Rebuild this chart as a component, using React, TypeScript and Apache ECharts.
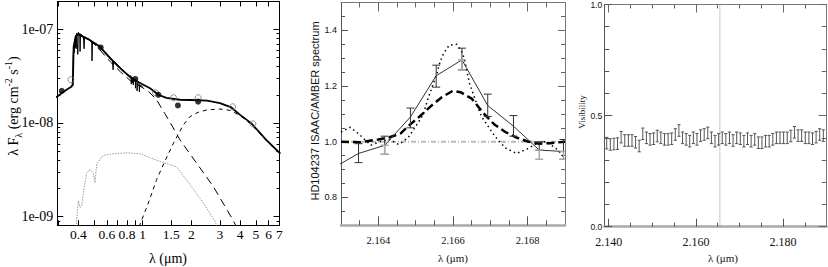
import React, { useEffect, useRef } from 'react';
import * as echarts from 'echarts';

// ---------------- Panel 1 : SED (log-log) ----------------
const sedXRange = [0.2965, 7.007]; // micron
const sedYRange = [8.09e-10, 1.98e-7];
const sedXTickLabels = [0.4, 0.6, 0.8, 1, 1.5, 2, 3, 4, 5, 6, 7];
const sedXMinorTicks = [0.3, 0.5, 0.7, 0.9];
const sedYTickLabels = [1e-9, 1e-8, 1e-7];
const sedYMinorTicks = [
  9e-10, 2e-9, 3e-9, 4e-9, 5e-9, 6e-9, 7e-9, 8e-9, 9e-9,
  2e-8, 3e-8, 4e-8, 5e-8, 6e-8, 7e-8, 8e-8, 9e-8,
];

// total model (thick solid)
const sedTotal: [number, number][] = [
  [0.29, 1.88e-8], [0.3, 1.94e-8], [0.32, 2.12e-8], [0.34, 2.28e-8], [0.36, 2.42e-8],
  [0.37, 2.55e-8], [0.374, 6.5e-8], [0.385, 8.4e-8], [0.4, 8.9e-8], [0.43, 8.3e-8],
  [0.47, 7.7e-8], [0.545, 6.5e-8], [0.63, 4.9e-8], [0.73, 3.8e-8], [0.835, 3.1e-8],
  [0.95, 2.7e-8], [1.11, 2.35e-8], [1.25, 2.0e-8], [1.4, 1.85e-8], [1.7, 1.77e-8],
  [2.0, 1.76e-8], [2.5, 1.73e-8], [3.0, 1.63e-8], [3.5, 1.48e-8], [4.0, 1.22e-8],
  [4.7, 9.9e-9], [5.8, 6.6e-9], [7.1, 4.7e-9],
];
// high resolution stellar spectrum with absorption lines (thin solid)
const sedSpectrum: [number, number][] = [
  [0.366, 2.5e-8], [0.37, 3.2e-8], [0.372, 5.2e-8], [0.375, 6.8e-8], [0.377, 5.6e-8],
  [0.38, 7.8e-8], [0.383, 6.4e-8], [0.386, 8.6e-8], [0.388, 6.2e-8], [0.391, 9.1e-8],
  [0.394, 7.2e-8], [0.397, 5.4e-8], [0.4, 9.3e-8], [0.404, 8.8e-8], [0.408, 9.0e-8],
  [0.41, 5.8e-8], [0.413, 8.9e-8], [0.42, 8.7e-8], [0.43, 8.4e-8], [0.434, 6.2e-8],
  [0.437, 8.3e-8], [0.45, 8.1e-8], [0.47, 7.7e-8], [0.484, 7.4e-8], [0.486, 4.6e-8],
  [0.489, 7.3e-8], [0.52, 6.9e-8], [0.6, 5.5e-8], [0.65, 4.7e-8], [0.656, 3.7e-8],
  [0.661, 4.6e-8], [0.75, 3.7e-8], [0.83, 3.15e-8], [0.845, 3.2e-8], [0.85, 2.6e-8],
  [0.855, 3.1e-8], [0.862, 2.7e-8], [0.866, 3.05e-8], [0.875, 2.55e-8], [0.88, 2.95e-8],
  [0.9, 2.85e-8], [0.902, 2.35e-8], [0.906, 2.8e-8], [0.92, 2.72e-8], [0.923, 2.2e-8],
  [0.927, 2.65e-8], [0.95, 2.6e-8], [0.954, 2.15e-8], [0.958, 2.55e-8], [1.0, 2.45e-8],
];
// photosphere (long dashed)
const sedPhotosphere: [number, number][] = [
  [0.4, 8.7e-8], [0.45, 8.0e-8], [0.5, 7.0e-8], [0.545, 6.0e-8], [0.63, 4.5e-8],
  [0.73, 3.5e-8], [0.835, 2.85e-8], [0.95, 2.5e-8], [1.08, 2.2e-8], [1.22, 1.76e-8],
  [1.37, 1.26e-8], [1.51, 9.5e-9], [1.7, 6.6e-9], [2.16, 3.7e-9], [2.73, 2.1e-9],
  [3.55, 9.7e-10], [3.8, 7.8e-10],
];
// disk (short dashed)
const sedDisk: [number, number][] = [
  [0.95, 7.8e-10], [1.1, 1.5e-9], [1.22, 2.5e-9], [1.38, 4.0e-9], [1.55, 6.1e-9],
  [1.78, 9.5e-9], [1.96, 1.17e-8], [2.2, 1.3e-8], [2.5, 1.38e-8], [3.0, 1.41e-8],
  [3.5, 1.36e-8], [4.0, 1.2e-8], [4.7, 9.6e-9], [5.8, 6.5e-9], [7.1, 4.6e-9],
];
// companion / reflected component (gray dotted)
const sedGray: [number, number][] = [
  [0.388, 7.8e-10], [0.392, 1.0e-9], [0.4, 1.47e-9], [0.41, 1.25e-9], [0.42, 1.3e-9],
  [0.43, 1.8e-9], [0.45, 2.9e-9], [0.47, 3.2e-9], [0.495, 2.9e-9], [0.507, 2.3e-9],
  [0.52, 3.7e-9], [0.57, 4.5e-9], [0.66, 4.7e-9], [0.8, 4.8e-9], [0.96, 4.7e-9],
  [1.22, 4.0e-9], [1.62, 3.4e-9], [1.96, 2.2e-9], [2.37, 1.4e-9], [2.8, 8.9e-10],
  [2.9, 7.5e-10],
];
const sedOpen: [number, number][] = [
  [0.36, 2.9e-8], [1.2, 2.1e-8], [1.55, 1.86e-8], [2.2, 1.86e-8], [3.6, 1.49e-8], [4.8, 9.8e-9],
];
const sedFilled: [number, number][] = [
  [0.316, 2.2e-8], [0.55, 6.4e-8], [0.9, 2.95e-8], [1.25, 2.0e-8], [1.65, 1.54e-8], [2.2, 1.69e-8],
];

// ---------------- Panel 2 : Br gamma line profile ----------------
const lineXRange = [2.163, 2.169];
const lineYRange = [0.7, 1.5];
const lineXTickLabels = [2.164, 2.166, 2.168];
const lineXMinorTicks = [2.1635, 2.1645, 2.165, 2.1655, 2.1665, 2.167, 2.1675, 2.1685];
const lineYTickLabels = [0.8, 1.0, 1.2, 1.4];
const lineYMinorTicks = [0.75, 0.85, 0.9, 0.95, 1.05, 1.1, 1.15, 1.25, 1.3, 1.35, 1.45];
const continuumLevel = 1.0;
const lineObserved: [number, number][] = [
  [2.16278, 0.905], [2.16347, 0.958], [2.16417, 0.987], [2.16486, 1.089], [2.16555, 1.237],
  [2.16624, 1.294], [2.16693, 1.13], [2.16762, 1.056], [2.16831, 0.97], [2.16896, 0.965],
];
const lineErrBlack: [number, number, number][] = [
  [2.16347, 0.925, 0.993], [2.16417, 0.955, 1.02], [2.16486, 1.05, 1.121],
  [2.16555, 1.196, 1.275], [2.16624, 1.258, 1.336], [2.16693, 1.091, 1.171],
  [2.16762, 1.02, 1.094], [2.16831, 0.97, 1.0], [2.16896, 0.937, 1.008],
];
const lineErrGray: [number, number, number][] = [
  [2.16417, 0.955, 0.987], [2.16624, 1.258, 1.294], [2.16831, 0.937, 0.97], [2.16896, 0.937, 0.965],
];
const lineModelDashed: [number, number][] = [
  [2.163, 1.0], [2.1635, 0.998], [2.164, 1.008], [2.1643, 1.016], [2.1646, 1.03],
  [2.1648, 1.056], [2.1651, 1.09], [2.1654, 1.127], [2.1657, 1.16], [2.166, 1.183],
  [2.1662, 1.178], [2.1665, 1.155], [2.1668, 1.105], [2.1671, 1.063], [2.1674, 1.035],
  [2.1677, 1.015], [2.168, 1.001], [2.1683, 0.993], [2.1686, 0.995], [2.169, 1.0],
];
const lineModelDotted: [number, number][] = [
  [2.163, 1.035], [2.16325, 1.052], [2.1635, 1.025], [2.1638, 0.988], [2.1641, 1.003],
  [2.1643, 1.008], [2.16455, 0.99], [2.1648, 1.015], [2.165, 1.055], [2.1652, 1.097],
  [2.16532, 1.151], [2.16545, 1.2], [2.16557, 1.246], [2.16565, 1.285], [2.16575, 1.318],
  [2.1659, 1.347], [2.1661, 1.35], [2.16626, 1.318], [2.16635, 1.27], [2.16644, 1.21],
  [2.1666, 1.15], [2.16676, 1.091], [2.16712, 1.02], [2.1674, 0.978], [2.1677, 0.958],
  [2.168, 0.975], [2.1683, 0.998], [2.1685, 1.0], [2.1688, 0.972], [2.169, 0.94],
];

// ---------------- Panel 3 : visibility ----------------
const visXRange = [2.139, 2.19];
const visYRange = [0, 1];
const visXTickLabels = [2.14, 2.16, 2.18];
const visXMinorTicks = [2.145, 2.15, 2.155, 2.165, 2.17, 2.175, 2.185];
const visYTickLabels = [0, 0.5, 1.0];
const visYMinorTicks = [0.1, 0.2, 0.3, 0.4, 0.6, 0.7, 0.8, 0.9];
const visBrGamma = 2.1655;
const visHalfErr = 0.026;
const visLambda = [
  2.13955, 2.14038, 2.14121, 2.14203, 2.14286, 2.14369, 2.14452, 2.14535, 2.14617, 2.147,
  2.14783, 2.14866, 2.14949, 2.15031, 2.15114, 2.15197, 2.1528, 2.15363, 2.15445, 2.15528,
  2.15611, 2.15694, 2.15777, 2.15859, 2.15942, 2.16025, 2.16108, 2.16191, 2.16273, 2.16356,
  2.16439, 2.16522, 2.16605, 2.16687, 2.1677, 2.16853, 2.16936, 2.17019, 2.17101, 2.17184,
  2.17267, 2.1735, 2.17433, 2.17515, 2.17598, 2.17681, 2.17764, 2.17847, 2.17929, 2.18012,
  2.18095, 2.18178, 2.18261, 2.18343, 2.18426, 2.18509, 2.18592, 2.18675, 2.18757, 2.1884,
  2.18923,
];
const visValue = [
  0.376, 0.37, 0.372, 0.374, 0.403, 0.388, 0.388, 0.388, 0.38, 0.363,
  0.418, 0.4, 0.393, 0.396, 0.408, 0.4, 0.393, 0.393, 0.396, 0.415,
  0.433, 0.4, 0.393, 0.385, 0.4, 0.393, 0.41, 0.415, 0.422, 0.4,
  0.385, 0.393, 0.4, 0.393, 0.4, 0.388, 0.4, 0.396, 0.385, 0.396,
  0.385, 0.393, 0.378, 0.378, 0.385, 0.385, 0.393, 0.4, 0.4, 0.4,
  0.4, 0.408, 0.425, 0.41, 0.41, 0.4, 0.4, 0.396, 0.403, 0.415,
  0.41,
];

// ---------------- helpers ----------------
const lg = (v: number) => Math.log10(v);
const toLog = (arr: [number, number][]) => arr.map(([x, y]) => [lg(x), lg(y)]);

type Side = { color: string; width: number; tick: string };

function buildAxes(
  dim: 'x' | 'y', grid: number, min: number, max: number,
  major: number[], minor: number[], labels: number[],
  fmt: (v: number) => string, label: any, sides: [Side, Side],
  majorLen: number, minorLen: number,
) {
  const pos = dim === 'x' ? ['bottom', 'top'] : ['left', 'right'];
  const base = { type: 'value', gridIndex: grid, min, max, splitLine: { show: false }, axisPointer: { show: false } };
  const mk = (i: number, isMajor: boolean, withLabel: boolean) => ({
    ...base,
    position: pos[i],
    axisLine: isMajor
      ? { show: true, onZero: false, lineStyle: { color: sides[i].color, width: sides[i].width } }
      : { show: false, onZero: false },
    axisTick: {
      show: true, inside: true, length: isMajor ? majorLen : minorLen,
      customValues: isMajor ? major : minor,
      lineStyle: { color: sides[i].tick, width: 1 },
    },
    axisLabel: withLabel ? { show: true, customValues: labels, formatter: fmt, ...label } : { show: false },
  });
  return [mk(0, true, true), mk(1, true, false), mk(0, false, false), mk(1, false, false)];
}

function errorBars(data: number[][], xi: number, yi: number, color: string, cap: number, lw: number, z: number) {
  return {
    type: 'custom', xAxisIndex: xi, yAxisIndex: yi, data, clip: true, silent: true, z,
    encode: { x: 0, y: [1, 2] },
    renderItem: (_p: any, api: any) => {
      const x = api.value(0), lo = api.value(1), hi = api.value(2);
      const a = api.coord([x, lo]);
      const b = api.coord([x, hi]);
      const st = { stroke: color, lineWidth: lw };
      return {
        type: 'group',
        children: [
          { type: 'line', shape: { x1: a[0], y1: a[1], x2: b[0], y2: b[1] }, style: st },
          { type: 'line', shape: { x1: a[0] - cap, y1: a[1], x2: a[0] + cap, y2: a[1] }, style: st },
          { type: 'line', shape: { x1: b[0] - cap, y1: b[1], x2: b[0] + cap, y2: b[1] }, style: st },
        ],
      };
    },
  };
}

const SERIF = "'Liberation Serif', 'Times New Roman', serif";
const SANS = "'Liberation Sans', Arial, sans-serif";

function buildOption() {
  const black: Side = { color: '#000', width: 1, tick: '#000' };
  const p2Left: Side = { color: '#555', width: 1, tick: '#555' };
  const p2Bottom: Side = { color: '#aaa', width: 2.5, tick: '#555' };
  const p2Other: Side = { color: '#777', width: 1, tick: '#666' };

  const xAxes = [
    ...buildAxes('x', 0, lg(sedXRange[0]), lg(sedXRange[1]), sedXTickLabels.map(lg), sedXMinorTicks.map(lg),
      sedXTickLabels.map(lg), (v) => String(Math.round(Math.pow(10, v) * 10) / 10),
      { fontFamily: SERIF, fontSize: 13.5, color: '#000', margin: 2 }, [black, black], 5, 5),
    ...buildAxes('x', 1, lineXRange[0], lineXRange[1], lineXTickLabels, lineXMinorTicks, lineXTickLabels,
      (v) => v.toFixed(3), { fontFamily: SERIF, fontSize: 10.5, color: '#111', margin: 10 }, [p2Bottom, p2Other], 9, 5),
    ...buildAxes('x', 2, visXRange[0], visXRange[1], visXTickLabels, visXMinorTicks, visXTickLabels,
      (v) => v.toFixed(3), { fontFamily: SERIF, fontSize: 12, color: '#111', margin: 9 }, [p2Bottom, p2Other], 8, 4),
  ];
  const yAxes = [
    ...buildAxes('y', 0, lg(sedYRange[0]), lg(sedYRange[1]), sedYTickLabels.map(lg), sedYMinorTicks.map(lg),
      sedYTickLabels.map(lg), (v) => '1e-0' + Math.round(-v),
      { fontFamily: SERIF, fontSize: 14, color: '#000', margin: 4 }, [black, black], 6, 3),
    ...buildAxes('y', 1, lineYRange[0], lineYRange[1], lineYTickLabels, lineYMinorTicks, lineYTickLabels,
      (v) => v.toFixed(1), { fontFamily: SANS, fontSize: 9, color: '#111', margin: 4 }, [p2Left, p2Other], 7, 4),
    ...buildAxes('y', 2, visYRange[0], visYRange[1], visYTickLabels, visYMinorTicks, visYTickLabels,
      (v) => v.toFixed(1), { fontFamily: SANS, fontSize: 8.5, color: '#111', margin: 2 }, [p2Left, p2Other], 8, 5),
  ];

  const lineS = (data: any, xi: number, yi: number, color: string, width: number, type: any, z: number) => ({
    type: 'line', xAxisIndex: xi, yAxisIndex: yi, data, showSymbol: false, symbol: 'none', silent: true,
    lineStyle: { color, width, type }, z, clip: true,
  });

  const series: any[] = [
    // panel 1
    lineS(toLog(sedGray), 0, 0, '#999', 1, [1.5, 1.2], 2),
    lineS(toLog(sedDisk), 0, 0, '#000', 1, [4, 4], 2),
    lineS(toLog(sedPhotosphere), 0, 0, '#000', 1, [8, 5], 2),
    lineS(toLog(sedSpectrum), 0, 0, '#000', 1, 'solid', 3),
    lineS(toLog(sedTotal), 0, 0, '#000', 1.8, 'solid', 4),
    {
      type: 'scatter', xAxisIndex: 0, yAxisIndex: 0, data: toLog(sedOpen), symbol: 'circle', symbolSize: 6,
      itemStyle: { color: 'rgba(255,255,255,0)', borderColor: '#777', borderWidth: 1 }, z: 5, silent: true,
    },
    {
      type: 'scatter', xAxisIndex: 0, yAxisIndex: 0, data: toLog(sedFilled), symbol: 'circle', symbolSize: 6,
      itemStyle: { color: '#000' }, z: 6, silent: true,
    },
    // panel 2
    lineS([[lineXRange[0], continuumLevel], [lineXRange[1], continuumLevel]], 4, 4, '#bbb', 2, [5, 2, 1, 2], 1),
    lineS(lineModelDotted, 4, 4, '#000', 1.5, [1.5, 3.2], 3),
    lineS(lineModelDashed, 4, 4, '#000', 2.5, [8, 4], 3),
    lineS(lineObserved, 4, 4, '#333', 1, 'solid', 4),
    errorBars(lineErrBlack, 4, 4, '#333', 4, 1, 5),
    errorBars(lineErrGray, 4, 4, '#aaa', 4, 1.5, 6),
    // panel 3
    lineS([[visBrGamma, visYRange[0]], [visBrGamma, visYRange[1]]], 8, 8, '#999', 1, [1, 1], 1),
    errorBars(visLambda.map((l, i) => [l, visValue[i] - visHalfErr, visValue[i] + visHalfErr]), 8, 8, '#555', 1.6, 1, 5),
  ];

  const graphic: any[] = [
    {
      type: 'text', x: 13, y: 106, rotation: Math.PI / 2, silent: true,
      style: {
        text: '{a|λ F}{b|λ}{a| (erg cm}{c|-2}{a| s}{c|-1}{a|)}',
        align: 'center', verticalAlign: 'middle', fill: '#000',
        rich: {
          a: { fontFamily: SERIF, fontSize: 14, lineHeight: 20, verticalAlign: 'middle', fill: '#000' },
          b: { fontFamily: SERIF, fontSize: 10, lineHeight: 20, verticalAlign: 'bottom', fill: '#000' },
          c: { fontFamily: SERIF, fontSize: 10, lineHeight: 20, verticalAlign: 'top', fill: '#000' },
        },
      },
    },
    { type: 'text', x: 168, y: 258, silent: true, style: { text: 'λ (μm)', fontFamily: SERIF, fontSize: 14, align: 'center', verticalAlign: 'middle', fill: '#000' } },
    { type: 'text', x: 315, y: 111, rotation: Math.PI / 2, silent: true, style: { text: 'HD104237 ISAAC/AMBER spectrum', fontFamily: SANS, fontSize: 11, align: 'center', verticalAlign: 'middle', fill: '#111' } },
    { type: 'text', x: 453, y: 258, silent: true, style: { text: 'λ (μm)', fontFamily: SERIF, fontSize: 11, align: 'center', verticalAlign: 'middle', fill: '#111' } },
    { type: 'text', x: 582, y: 112, rotation: Math.PI / 2, silent: true, style: { text: 'Visibility', fontFamily: SERIF, fontSize: 9, align: 'center', verticalAlign: 'middle', fill: '#111' } },
    { type: 'text', x: 723, y: 258, silent: true, style: { text: 'λ (μm)', fontFamily: SERIF, fontSize: 11, align: 'center', verticalAlign: 'middle', fill: '#111' } },
  ];

  return {
    animation: false,
    backgroundColor: '#fff',
    grid: [
      { left: 57.3, top: 1.5, width: 222.2, height: 223.8 },
      { left: 341, top: 2.5, width: 224, height: 222.8 },
      { left: 604.3, top: 3.3, width: 222.4, height: 223.4 },
    ],
    xAxis: xAxes,
    yAxis: yAxes,
    series,
    graphic,
  };
}

export default function App() {
  const ref = useRef<HTMLDivElement>(null);
  useEffect(() => {
    if (!ref.current) return;
    const chart = echarts.init(ref.current, null, { renderer: 'svg' });
    chart.setOption(buildOption() as any);
    return () => chart.dispose();
  }, []);
  return (
    <div
      ref={ref}
      style={{ position: 'fixed', left: 0, top: 0, width: 828, height: 267, background: '#fff' }}
    />
  );
}
